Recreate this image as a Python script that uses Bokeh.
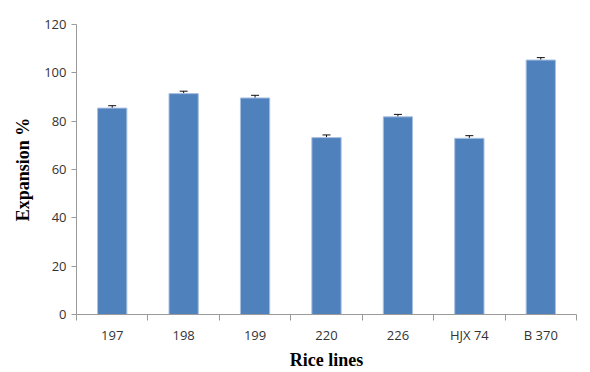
from bokeh.plotting import figure
from bokeh.models import ColumnDataSource, FixedTicker, Whisker, TeeHead, Range1d
from bokeh.embed import file_html
from bokeh.resources import INLINE

categories = ["197", "198", "199", "220", "226", "HJX 74", "B 370"]
values = [85.4, 91.4, 89.6, 73.2, 81.8, 72.9, 105.3]
errors = [1.0, 1.0, 1.1, 1.1, 1.0, 1.1, 1.0]
y_ticks = [0, 20, 40, 60, 80, 100, 120]

xs = [i + 0.5 for i in range(len(categories))]
src = ColumnDataSource(dict(
    x=xs, top=values,
    lower=[v - e for v, e in zip(values, errors)],
    upper=[v + e for v, e in zip(values, errors)],
))

p = figure(width=580, height=372, output_backend="svg", toolbar_location=None,
           x_range=Range1d(0, len(categories)), y_range=Range1d(0, 120),
           min_border_left=76, min_border_right=4, min_border_top=24, min_border_bottom=20)
p.outline_line_color = None
p.xgrid.visible = False
p.ygrid.visible = False

p.vbar(x="x", top="top", width=0.41, source=src, fill_color="#4F81BD",
       line_color="#a9c1e0", line_width=1)
w = Whisker(base="x", lower="lower", upper="upper", source=src, line_color="#111111",
            line_width=1,
            lower_head=TeeHead(size=8, line_color="#111111", line_width=1),
            upper_head=TeeHead(size=8, line_color="#111111", line_width=1))
p.add_layout(w)

# x axis
p.xaxis.ticker = FixedTicker(ticks=xs, minor_ticks=list(range(len(categories) + 1)))
p.xaxis.major_label_overrides = {x: c for x, c in zip(xs, categories)}
p.xaxis.major_tick_out = 0
p.xaxis.major_tick_in = 0
p.xaxis.minor_tick_out = 6
p.xaxis.minor_tick_in = 0
p.xaxis.minor_tick_line_color = "#9a9a9a"
p.xaxis.axis_line_color = "#9a9a9a"
p.xaxis.major_label_text_font = "Open Sans"
p.xaxis.major_label_text_font_size = "13px"
p.xaxis.major_label_text_color = "#333333"
p.xaxis.major_label_standoff = 5
p.xaxis.axis_label = "Rice lines"
p.xaxis.axis_label_text_font = "Liberation Serif"
p.xaxis.axis_label_text_font_style = "bold"
p.xaxis.axis_label_text_font_size = "18px"
p.xaxis.axis_label_text_color = "#000000"
p.xaxis.axis_label_standoff = 3

# y axis
p.yaxis.ticker = FixedTicker(ticks=y_ticks, minor_ticks=[])
p.yaxis.major_tick_out = 5
p.yaxis.major_tick_in = 0
p.yaxis.major_tick_line_color = "#9a9a9a"
p.yaxis.axis_line_color = "#9a9a9a"
p.yaxis.major_label_text_font = "Open Sans"
p.yaxis.major_label_text_font_size = "13px"
p.yaxis.major_label_text_color = "#333333"
p.yaxis.major_label_standoff = 5
p.yaxis.axis_label = "Expansion %"
p.yaxis.axis_label_text_font = "Liberation Serif"
p.yaxis.axis_label_text_font_style = "bold"
p.yaxis.axis_label_text_font_size = "18px"
p.yaxis.axis_label_text_color = "#000000"
p.yaxis.axis_label_standoff = 8

open("out.html", "w").write(file_html(p, INLINE))
